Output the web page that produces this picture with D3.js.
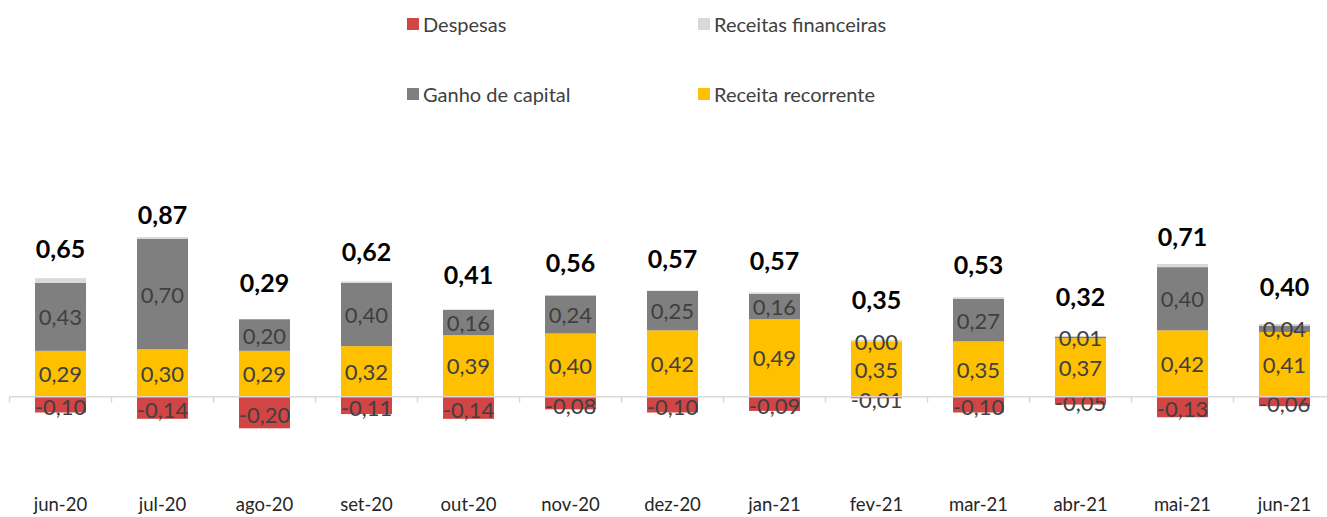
<!DOCTYPE html>
<html>
<head>
<meta charset="utf-8">
<script src="https://cdn.jsdelivr.net/npm/d3@7"></script>
<style>
  html, body { margin: 0; padding: 0; background: #ffffff; }
  svg { display: block; }
  text { font-family: "Lato", "Open Sans", sans-serif; }
</style>
</head>
<body>
<script>
const categories = ["jun-20","jul-20","ago-20","set-20","out-20","nov-20","dez-20","jan-21","fev-21","mar-21","abr-21","mai-21","jun-21"];
const receitaRecorrente   = [0.29,0.30,0.29,0.32,0.39,0.40,0.42,0.49,0.35,0.35,0.37,0.42,0.41];
const ganhoCapital        = [0.43,0.70,0.20,0.40,0.16,0.24,0.25,0.16,0.00,0.27,0.01,0.40,0.04];
const receitasFinanceiras = [0.03,0.01,0.00,0.01,0.00,0.00,0.00,0.01,0.01,0.01,0.00,0.02,0.01];
const despesas            = [-0.10,-0.14,-0.20,-0.11,-0.14,-0.08,-0.10,-0.09,-0.01,-0.10,-0.05,-0.13,-0.06];
const totals              = [0.65,0.87,0.29,0.62,0.41,0.56,0.57,0.57,0.35,0.53,0.32,0.71,0.40];

const legendItems = [
  {name: "Despesas", color: "#d24545"},
  {name: "Receitas financeiras", color: "#d9d9d9"},
  {name: "Ganho de capital", color: "#7f7f7f"},
  {name: "Receita recorrente", color: "#ffc000"}
];

const W = 1327, H = 517;
const svg = d3.select("body").append("svg").attr("width", W).attr("height", H);

const x = d3.scaleBand().domain(categories).range([9.5, 1335.5]).paddingInner(0.5).paddingOuter(0.25);
const y = d3.scaleLinear().domain([-0.5, 1.2]).range([475.7, 207.1]);
const yLabel = d3.scaleLinear().domain([0, 1]).range([345.5, 215.4]);

const fmt = v => d3.format(".2f")(v).replace("\u2212", "-").replace(".", ",");

const rows = categories.map((c, i) => ({
  cat: c,
  rec: receitaRecorrente[i],
  gan: ganhoCapital[i],
  fin: receitasFinanceiras[i],
  des: despesas[i],
  total: totals[i]
}));

const posSeries = [
  {key: "rec", color: "#ffc000", label: true},
  {key: "gan", color: "#7f7f7f", label: true},
  {key: "fin", color: "#d9d9d9", label: false}
];

const stacked = d3.stack().keys(posSeries.map(s => s.key))(rows);

const g = svg.append("g");

stacked.forEach((layer, li) => {
  const s = posSeries[li];
  g.selectAll(null).data(layer).enter().append("rect")
    .attr("x", d => x(d.data.cat))
    .attr("width", x.bandwidth())
    .attr("y", d => y(d[1]))
    .attr("height", d => Math.max(0, y(d[0]) - y(d[1])))
    .attr("fill", s.color);
});

g.selectAll(null).data(rows).enter().append("rect")
  .attr("x", d => x(d.cat))
  .attr("width", x.bandwidth())
  .attr("y", y(0))
  .attr("height", d => y(d.des) - y(0))
  .attr("fill", "#d24545");

const axisY = y(0);
svg.append("line")
  .attr("x1", x.range()[0]).attr("x2", W)
  .attr("y1", axisY).attr("y2", axisY)
  .attr("stroke", "#d9d9d9").attr("stroke-width", 1.5);
categories.forEach((c, i) => {
  const tx = x.range()[0] + i * x.step();
  svg.append("line")
    .attr("x1", tx).attr("x2", tx)
    .attr("y1", axisY).attr("y2", axisY + 6)
    .attr("stroke", "#d9d9d9").attr("stroke-width", 1.5);
});

stacked.forEach((layer, li) => {
  const s = posSeries[li];
  if (!s.label) return;
  g.selectAll(null).data(layer).enter().append("text")
    .attr("x", d => x(d.data.cat) + x.bandwidth() / 2)
    .attr("y", d => (y(d[0]) + y(d[1])) / 2)
    .attr("text-anchor", "middle")
    .attr("dominant-baseline", "central")
    .attr("font-size", 22)
    .attr("fill", "#404040")
    .text(d => fmt(d.data[s.key]));
});
g.selectAll(null).data(rows).enter().append("text")
  .attr("x", d => x(d.cat) + x.bandwidth() / 2)
  .attr("y", d => (y(0) + y(d.des)) / 2 + 2)
  .attr("text-anchor", "middle")
  .attr("dominant-baseline", "central")
  .attr("font-size", 22)
  .attr("fill", "#404040")
  .text(d => fmt(d.des));

g.selectAll(null).data(rows).enter().append("text")
  .attr("x", d => x(d.cat) + x.bandwidth() / 2)
  .attr("y", d => yLabel(d.rec + d.gan + d.fin))
  .attr("text-anchor", "middle")
  .attr("dominant-baseline", "central")
  .attr("font-size", 25)
  .attr("font-weight", "bold")
  .attr("fill", "#000000")
  .text(d => fmt(d.total));

svg.selectAll(null).data(categories).enter().append("text")
  .attr("x", d => x(d) + x.bandwidth() / 2)
  .attr("y", 504)
  .attr("text-anchor", "middle")
  .attr("dominant-baseline", "central")
  .attr("font-size", 18.5)
  .attr("fill", "#262626")
  .text(d => d);

const legendPos = [[407, 18], [698, 18], [407, 88], [698, 88]];
legendItems.forEach((it, i) => {
  const [lx, ly] = legendPos[i];
  const lg = svg.append("g").attr("transform", `translate(${lx},${ly})`);
  lg.append("rect").attr("width", 12).attr("height", 12).attr("fill", it.color);
  lg.append("text").attr("x", 16).attr("y", 6)
    .attr("dominant-baseline", "central")
    .attr("font-size", 20)
    .attr("fill", "#404040")
    .text(it.name);
});
</script>
</body>
</html>
